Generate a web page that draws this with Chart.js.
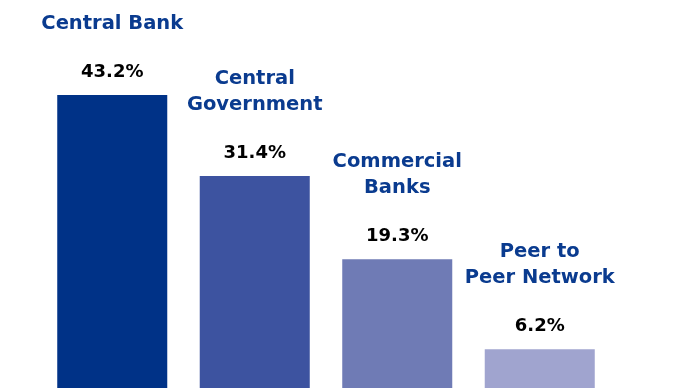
<!DOCTYPE html>
<html>
<head>
<meta charset="utf-8">
<script src="https://cdn.jsdelivr.net/npm/chart.js@4/dist/chart.umd.min.js"></script>
<style>
  html, body { margin: 0; padding: 0; background: #fff; overflow: hidden; }
  #wrap { position: absolute; left: 0; top: 0; width: 681px; height: 392px; }
</style>
</head>
<body>
<div id="wrap"><canvas id="chart"></canvas></div>
<script>
"use strict";

// issuer categories, each name split over its display lines
const categories = [
  ["Central Bank"],
  ["Central", "Government"],
  ["Commercial", "Banks"],
  ["Peer to", "Peer Network"],
];
const shares = [43.2, 31.4, 19.3, 6.2];
const barColors = ["#003287", "#3d53a0", "#6f7bb5", "#a0a4cf"];

const LABEL_BLUE = "#0a3b8f";
const FONT = "'DejaVu Sans', sans-serif";

/**
 * Draws the percentage and the category name above each bar
 */
const barLabels = {
  id: "barLabels",
  afterDatasetsDraw(chart) {
    const ctx = chart.ctx;
    const bars = chart.getDatasetMeta(0).data;
    ctx.save();
    ctx.textAlign = "center";
    ctx.textBaseline = "middle";
    bars.forEach((bar, i) => {
      ctx.fillStyle = "#000";
      ctx.font = `700 18px ${FONT}`;
      ctx.fillText(shares[i].toFixed(1) + "%", bar.x, bar.y - 23);

      const lines = categories[i];
      ctx.fillStyle = LABEL_BLUE;
      ctx.font = `700 19.5px ${FONT}`;
      lines.forEach((line, j) => {
        const fromBottom = lines.length - 1 - j;
        ctx.fillText(line, bar.x, bar.y - 71 - fromBottom * 26.5);
      });
    });
    ctx.restore();
  },
};

function buildChart() {
  return new Chart(document.getElementById("chart"), {
    type: "bar",
    data: {
      labels: categories.map((c) => c.join(" ")),
      datasets: [
        {
          data: shares,
          backgroundColor: barColors,
          borderWidth: 0,
          categoryPercentage: 1,
          barPercentage: 0.772,
        },
      ],
    },
    options: {
      responsive: true,
      maintainAspectRatio: false,
      animation: false,
      layout: { padding: { left: 41, right: 70, top: 0, bottom: 0 } },
      plugins: {
        legend: { display: false },
        tooltip: { enabled: false },
      },
      scales: {
        x: { display: false },
        y: { display: false, min: 0, max: 57 },
      },
    },
    plugins: [barLabels],
  });
}

buildChart();
</script>
</body>
</html>
